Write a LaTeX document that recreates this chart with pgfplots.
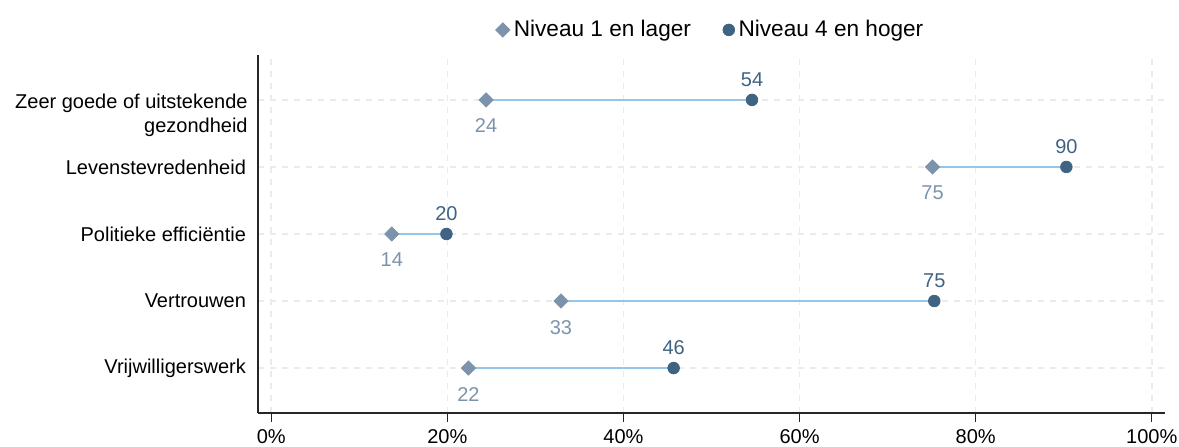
\documentclass[border=0pt]{standalone}
\usepackage{pgfplots}
\pgfplotsset{compat=1.18}
\usepackage{fontspec}
\setmainfont{Liberation Sans}
\definecolor{lowc}{HTML}{7D93AB}
\definecolor{highc}{HTML}{3F6382}
\definecolor{linec}{HTML}{93C6EA}
\definecolor{gridc}{HTML}{EBEBEB}
\begin{document}
\begin{tikzpicture}
\begin{axis}[
  name=ax,
  scale only axis,
  width=453.5pt, height=179pt,
  xmin=-1.5, xmax=101.5,
  ymin=-0.67, ymax=4.67,
  axis x line*=bottom, axis y line*=left,
  axis line style={-, draw=black!85, line width=0.6pt},
  xtick={0,20,40,60,80,100},
  xticklabels={0\%,20\%,40\%,60\%,80\%,100\%},
  ytick={0,1,2,3,4},
  yticklabels={Vrijwilligerswerk,Vertrouwen,Politieke efficiëntie,Levenstevredenheid,{}},
  ytick style={draw=none},
  xtick style={draw=black!85, line width=0.6pt},
  tick align=outside,
  major tick length=4.5pt,
  ticklabel style={font=\fontsize{10}{12}\selectfont},
  yticklabel style={xshift=2pt},
  grid=major,
  major grid style={gridc, dashed, line width=0.8pt},
  legend style={at={(0.5,1)}, anchor=south, yshift=3.5pt, draw=none, font=\fontsize{11.3}{13}\selectfont,
    /tikz/every even column/.append style={column sep=14pt}},
  legend columns=2,
  legend cell align=left,
  clip=false,
]
% connectors
\addplot[linec, line width=1pt, forget plot] coordinates {(24.4,4) (54.6,4)};
\addplot[linec, line width=1pt, forget plot] coordinates {(75.1,3) (90.3,3)};
\addplot[linec, line width=1pt, forget plot] coordinates {(13.7,2) (19.9,2)};
\addplot[linec, line width=1pt, forget plot] coordinates {(32.9,1) (75.3,1)};
\addplot[linec, line width=1pt, forget plot] coordinates {(22.4,0) (45.7,0)};
% low
\addplot[only marks, mark=square*, mark size=2.5pt, lowc, mark options={fill=lowc, draw=lowc, rotate=45},
  point meta=explicit symbolic,
  nodes near coords,
  nodes near coords style={anchor=north, yshift=-6pt, text=lowc, font=\fontsize{10}{12}\selectfont}]
  table[meta=lab] {
x y lab
24.4 4 24
75.1 3 75
13.7 2 14
32.9 1 33
22.4 0 22
};
\addlegendentry{Niveau 1 en lager}
% high
\addplot[only marks, mark=*, mark size=2.9pt, highc, mark options={fill=highc, draw=highc},
  point meta=explicit symbolic,
  nodes near coords,
  nodes near coords style={anchor=south, yshift=3pt, text=highc, font=\fontsize{10}{12}\selectfont}]
  table[meta=lab] {
x y lab
54.6 4 54
90.3 3 90
19.9 2 20
75.3 1 75
45.7 0 46
};
\addlegendentry{Niveau 4 en hoger}
\node[anchor=north east, align=right, font=\fontsize{10}{12}\selectfont, inner sep=0pt]
  at ([xshift=-5pt, yshift=3pt]axis cs:-1.5,4) {Zeer goede of uitstekende\\gezondheid};
\coordinate (bl) at (rel axis cs:0,0);
\coordinate (tr) at (rel axis cs:1,1);
\end{axis}
\pgfresetboundingbox
\path[use as bounding box] ([shift={(-129pt,-17pt)}]bl) rectangle ([shift={(7pt,27.5pt)}]tr);
\end{tikzpicture}
\end{document}
